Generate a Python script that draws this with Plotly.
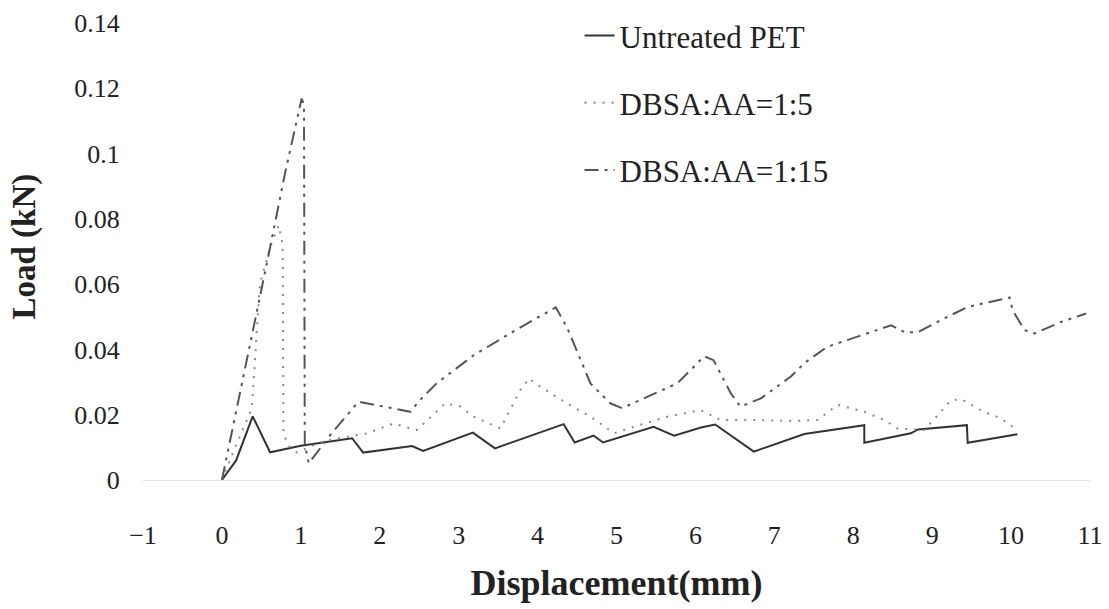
import plotly.graph_objects as go

# Untreated PET
untreated_x = [0, 0.18, 0.39, 0.61, 1.0, 1.65, 1.79, 2.41, 2.55, 3.18, 3.46, 4.33, 4.47, 4.71, 4.83,
               5.47, 5.73, 6.07, 6.25, 6.74, 7.38, 8.14, 8.14, 8.73, 8.82, 9.44, 9.45, 10.08]
untreated_y = [0, 0.006, 0.0195, 0.0085, 0.0105, 0.0128, 0.0084, 0.0104, 0.0089, 0.0145, 0.0097, 0.0171,
               0.0115, 0.0136, 0.0115, 0.0163, 0.0136, 0.0161, 0.0170, 0.0087, 0.0141, 0.0168, 0.0114,
               0.0143, 0.0155, 0.0168, 0.0114, 0.0140]

# DBSA:AA=1:5
d5_x = [0, 0.15, 0.38, 0.48, 0.62, 0.72, 0.77, 0.78, 0.86, 0.95, 1.3, 1.84, 2.17, 2.47, 2.83, 3.02,
        3.19, 3.53, 3.78, 3.89, 4.04, 4.37, 4.67, 4.97, 5.22, 5.64, 6.07, 6.32, 6.7, 7.25, 7.55, 7.8,
        8.14, 8.39, 8.56, 8.9, 9.11, 9.24, 9.37, 9.66, 9.87, 10.02]
d5_y = [0, 0.009, 0.022, 0.060, 0.072, 0.078, 0.072, 0.014, 0.010, 0.0085, 0.012, 0.0143, 0.0173,
        0.0153, 0.0235, 0.0225, 0.0194, 0.0158, 0.0275, 0.0311, 0.0285, 0.0235, 0.0194, 0.0143,
        0.0163, 0.0194, 0.0214, 0.0184, 0.0184, 0.0181, 0.0184, 0.0230, 0.0209, 0.0184, 0.0158,
        0.0153, 0.0209, 0.0245, 0.0247, 0.0209, 0.0189, 0.0163]

# DBSA:AA=1:15
d15_x = [0, 0.2, 0.42, 0.6, 0.8, 1.01, 1.04, 1.05, 1.1, 1.39, 1.73, 2.39, 2.49, 2.72, 3.19, 3.65,
         4.23, 4.37, 4.67, 4.92, 5.07, 5.39, 5.77, 5.98, 6.11, 6.23, 6.45, 6.57, 6.83, 7.21, 7.38,
         7.67, 7.97, 8.48, 8.65, 8.82, 9.11, 9.45, 9.98, 10.02, 10.17, 10.3, 10.63, 10.95]
d15_y = [0, 0.023, 0.049, 0.070, 0.094, 0.1168, 0.115, 0.011, 0.0051, 0.0143, 0.0240, 0.0209,
         0.0240, 0.0296, 0.0382, 0.0449, 0.0529, 0.0469, 0.0296, 0.0235, 0.0220, 0.0255, 0.0296,
         0.0347, 0.0379, 0.0367, 0.0265, 0.0225, 0.0250, 0.0317, 0.0358, 0.0408, 0.0433, 0.0474,
         0.0453, 0.0453, 0.0490, 0.0530, 0.0559, 0.0520, 0.0459, 0.0449, 0.0484, 0.0510]

x_ticks = list(range(-1, 12))
y_ticks = [0, 0.02, 0.04, 0.06, 0.08, 0.1, 0.12, 0.14]
y_tick_text = ["0", "0.02", "0.04", "0.06", "0.08", "0.1", "0.12", "0.14"]

FONT = "Liberation Serif, Times New Roman, serif"

fig = go.Figure()
fig.add_trace(go.Scatter(x=untreated_x, y=untreated_y, mode="lines", name="Untreated PET",
                         legendgroup="a", line=dict(color="#333333", width=2)))
fig.add_trace(go.Scatter(x=d5_x, y=d5_y, mode="lines", name="DBSA:AA=1:5",
                         legendgroup="b", line=dict(color="#8a8a8a", width=2, dash="2px,7px")))
fig.add_trace(go.Scatter(x=d15_x, y=d15_y, mode="lines", name="DBSA:AA=1:15",
                         legendgroup="c",
                         line=dict(color="#555555", width=2, dash="14px,6px,3px,6px,3px,6px")))

fig.update_layout(
    width=1109, height=609,
    margin=dict(l=143, r=19, t=23, b=129, autoexpand=False),
    paper_bgcolor="white", plot_bgcolor="white",
    font=dict(family=FONT, color="#222222", size=26),
    showlegend=True,
    legend=dict(x=0.461, y=1.031, xanchor="left", yanchor="top",
                font=dict(family=FONT, size=31, color="#222222"),
                tracegroupgap=24, bgcolor="rgba(0,0,0,0)"),
    xaxis=dict(range=[-1, 11], tickmode="array", tickvals=x_ticks,
               showgrid=False, zeroline=False, showline=True, linecolor="#e2e2e2", linewidth=1,
               ticks="outside", ticklen=32, tickcolor="rgba(0,0,0,0)",
               tickfont=dict(family=FONT, size=26), automargin=False,
               title=dict(text="<b>Displacement(mm)</b>", font=dict(family=FONT, size=36), standoff=20)),
    yaxis=dict(range=[0, 0.14], tickmode="array", tickvals=y_ticks, ticktext=y_tick_text,
               showgrid=False, zeroline=False, showline=False, automargin=False,
               ticks="outside", ticklen=17, tickcolor="rgba(0,0,0,0)",
               tickfont=dict(family=FONT, size=26)),
    annotations=[dict(text="<b>Load (kN)</b>", xref="paper", yref="paper",
                      x=-0.125, y=0.51, xanchor="center", yanchor="middle",
                      textangle=-90, showarrow=False,
                      font=dict(family=FONT, size=33, color="#222222"))],
)

fig.write_html("out.html")
